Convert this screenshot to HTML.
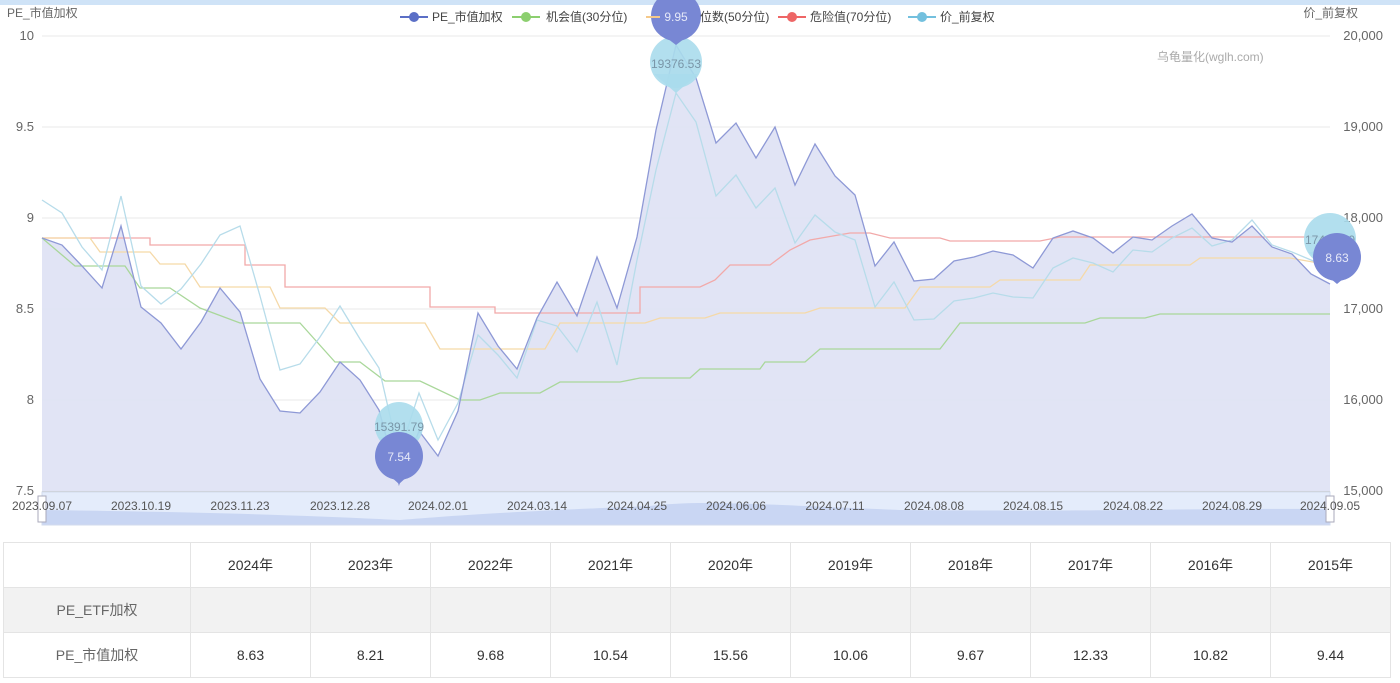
<!DOCTYPE html>
<html><head><meta charset="utf-8"><style>
body{margin:0;width:1400px;height:683px;background:#fff;overflow:hidden;font-family:"Liberation Sans","Noto Sans CJK SC",sans-serif;}
svg{position:absolute;left:0;top:0}
table{position:absolute;left:3px;top:542px;border-collapse:collapse;font-size:14px;color:#333}
td{border:1px solid #e4e4e4;text-align:center;height:44px;padding:0}
tr.g td{background:#f2f2f2}
td.h{color:#666}
</style></head><body>
<svg width="1400" height="540" font-family="Liberation Sans, Noto Sans CJK SC, sans-serif">
<rect x="0" y="0" width="1400" height="5" fill="#cfe3f7"/>
<g stroke="#e8e8e8" stroke-width="1">
<line x1="42" y1="36" x2="1330" y2="36"/><line x1="42" y1="127" x2="1330" y2="127"/><line x1="42" y1="218" x2="1330" y2="218"/><line x1="42" y1="309" x2="1330" y2="309"/><line x1="42" y1="400" x2="1330" y2="400"/><line x1="42" y1="491" x2="1330" y2="491" stroke="#ccc"/>
</g>
<g font-size="13" fill="#666" text-anchor="end">
<text x="34" y="40">10</text><text x="34" y="131">9.5</text><text x="34" y="222">9</text><text x="34" y="313">8.5</text><text x="34" y="404">8</text><text x="34" y="495">7.5</text>
</g>
<g font-size="13" fill="#666" text-anchor="end">
<text x="1383" y="40">20,000</text><text x="1383" y="131">19,000</text><text x="1383" y="222">18,000</text><text x="1383" y="313">17,000</text><text x="1383" y="404">16,000</text><text x="1383" y="495">15,000</text>
</g>
<text x="7" y="17" font-size="12" fill="#666">PE_市值加权</text>
<text x="1358" y="17" font-size="12" fill="#666" text-anchor="end">价_前复权</text>
<text x="1157" y="61" font-size="12" fill="#aaa">乌龟量化(wglh.com)</text>
<!-- PE area -->
<polygon fill="#dfe3f4" fill-opacity="0.95" stroke="none" points="42,491 42,238 62,245 82,266 102,288 121,226 141,307 161,323 181,349 201,322 220,288 240,312 260,379 280,411 300,413 320,392 340,362 360,380 379,410 399,484 419,431 438,456 458,411 478,313 498,346 517,369 537,318 557,282 577,316 597,257 617,308 637,237 656,130 676,45 696,78 716,143 736,123 756,158 775,127 795,185 815,144 835,176 855,195 875,266 894,242 914,281 934,279 954,261 974,257 993,251 1013,255 1033,268 1053,238 1073,231 1093,238 1113,253 1133,237 1152,240 1172,226 1192,214 1212,238 1232,242 1252,226 1272,247 1292,254 1311,274 1330,284 1330,491"/>
<polyline fill="none" stroke="#f2a9a9" stroke-width="1.3" points="42,238 150,238 150,245 245,245 245,265 285,265 285,287 430,287 430,307 495,307 495,313 640,313 640,287 700,287 715,280 730,265 770,265 790,250 810,240 850,233 870,233 890,238 940,238 950,241 1040,241 1060,237 1330,237"/>
<polyline fill="none" stroke="#f5d9a8" stroke-width="1.3" points="42,238 90,238 100,252 150,252 160,264 185,264 200,287 270,287 280,308 325,308 340,323 425,323 440,349 545,349 560,323 645,323 660,318 705,318 720,313 805,313 820,308 905,308 920,287 990,287 1000,280 1080,280 1090,265 1190,265 1200,258 1290,258 1330,265"/>
<polyline fill="none" stroke="#a9d79a" stroke-width="1.3" points="42,238 75,266 125,266 140,288 170,288 200,308 240,323 300,323 335,362 360,362 385,381 420,381 460,400 480,400 500,393 540,393 560,382 620,382 640,378 690,378 700,369 760,369 765,362 805,362 820,349 940,349 960,323 1085,323 1100,318 1145,318 1160,314 1330,314"/>
<polyline fill="none" stroke="#b7dcea" stroke-width="1.3" points="42,200 62,213 82,247 102,270 121,196 141,286 161,304 181,289 201,264 220,235 240,226 260,296 280,370 300,364 320,337 340,306 360,339 379,368 399,455 419,393 438,440 458,403 478,335 498,355 517,378 537,320 557,326 577,352 597,302 617,365 637,260 656,170 676,93 696,122 716,196 736,175 756,208 775,188 795,243 815,215 835,232 855,240 875,307 894,282 914,320 934,319 954,301 974,298 993,293 1013,297 1033,298 1053,268 1073,258 1093,263 1113,272 1133,250 1152,252 1172,238 1192,228 1212,246 1232,240 1252,220 1272,245 1292,252 1311,260 1330,268"/>
<polyline fill="none" stroke="#8e99d6" stroke-width="1.3" points="42,238 62,245 82,266 102,288 121,226 141,307 161,323 181,349 201,322 220,288 240,312 260,379 280,411 300,413 320,392 340,362 360,380 379,410 399,484 419,431 438,456 458,411 478,313 498,346 517,369 537,318 557,282 577,316 597,257 617,308 637,237 656,130 676,45 696,78 716,143 736,123 756,158 775,127 795,185 815,144 835,176 855,195 875,266 894,242 914,281 934,279 954,261 974,257 993,251 1013,255 1033,268 1053,238 1073,231 1093,238 1113,253 1133,237 1152,240 1172,226 1192,214 1212,238 1232,242 1252,226 1272,247 1292,254 1311,274 1330,284"/>
<!-- pins -->
<g fill="#aadcec" fill-opacity="0.9"><circle cx="676" cy="62" r="26"/><path d="M654,74 L676,93 L698,74Z"/>
<circle cx="399" cy="426" r="24"/><path d="M379,437 L399,455 L419,437Z"/>
<circle cx="1330" cy="239" r="26"/><path d="M1308,252 L1330,268 L1352,252Z"/></g>
<g font-size="12" fill="#7a96a8" text-anchor="middle"><text x="676" y="68">19376.53</text><text x="399" y="431">15391.79</text><text x="1330" y="244">17444.30</text></g>
<g fill="#7887d4"><circle cx="676" cy="16" r="25"/><path d="M655,29 L676,45 L697,29Z"/>
<circle cx="399" cy="456" r="24"/><path d="M380,467 L399,484 L418,467Z"/>
<circle cx="1337" cy="257" r="24"/><path d="M1318,268 L1337,284 L1356,268Z"/></g>
<g font-size="12" fill="#e6e9f8" text-anchor="middle"><text x="676" y="21">9.95</text><text x="399" y="461">7.54</text><text x="1337" y="262">8.63</text></g>
<!-- legend -->
<g font-size="12" fill="#444">
<line x1="400" y1="17" x2="428" y2="17" stroke="#5b6fc6" stroke-width="2"/><circle cx="414" cy="17" r="5" fill="#5b6fc6"/><text x="432" y="21">PE_市值加权</text>
<line x1="512" y1="17" x2="540" y2="17" stroke="#8ccf6f" stroke-width="2"/><circle cx="526" cy="17" r="5" fill="#8ccf6f"/><text x="546" y="21">机会值(30分位)</text>
<line x1="646" y1="17" x2="660" y2="17" stroke="#f5c98a" stroke-width="2"/><text x="700" y="21">位数(50分位)</text>
<line x1="778" y1="17" x2="806" y2="17" stroke="#ee6666" stroke-width="2"/><circle cx="792" cy="17" r="5" fill="#ee6666"/><text x="810" y="21">危险值(70分位)</text>
<line x1="908" y1="17" x2="936" y2="17" stroke="#73c0de" stroke-width="2"/><circle cx="922" cy="17" r="5" fill="#73c0de"/><text x="940" y="21">价_前复权</text>
</g>
<!-- dataZoom -->
<rect x="42" y="492" width="1288" height="33" fill="#e4ecfb"/>
<path d="M42,510 C200,512 300,515 400,520 C450,516 500,512 650,506 C700,500 750,504 900,510 C1100,512 1200,508 1330,509 L1330,525 L42,525Z" fill="#c9d6f3"/>
<rect x="42" y="492" width="1288" height="33" fill="none" stroke="#d2dbee"/>
<rect x="38" y="496" width="8" height="26" fill="#fff" stroke="#aab"/>
<rect x="1326" y="496" width="8" height="26" fill="#fff" stroke="#aab"/>
<g font-size="12" fill="#555" text-anchor="middle">
<text x="42" y="510">2023.09.07</text><text x="141" y="510">2023.10.19</text><text x="240" y="510">2023.11.23</text><text x="340" y="510">2023.12.28</text><text x="438" y="510">2024.02.01</text><text x="537" y="510">2024.03.14</text><text x="637" y="510">2024.04.25</text><text x="736" y="510">2024.06.06</text><text x="835" y="510">2024.07.11</text><text x="934" y="510">2024.08.08</text><text x="1033" y="510">2024.08.15</text><text x="1133" y="510">2024.08.22</text><text x="1232" y="510">2024.08.29</text><text x="1330" y="510">2024.09.05</text>
</g>
</svg>
<table>
<tr><td style="width:186px"></td><td style="width:119px">2024年</td><td style="width:119px">2023年</td><td style="width:119px">2022年</td><td style="width:119px">2021年</td><td style="width:119px">2020年</td><td style="width:119px">2019年</td><td style="width:119px">2018年</td><td style="width:119px">2017年</td><td style="width:119px">2016年</td><td style="width:119px">2015年</td></tr>
<tr class="g"><td class="h">PE_ETF加权</td><td></td><td></td><td></td><td></td><td></td><td></td><td></td><td></td><td></td><td></td></tr>
<tr><td class="h">PE_市值加权</td><td>8.63</td><td>8.21</td><td>9.68</td><td>10.54</td><td>15.56</td><td>10.06</td><td>9.67</td><td>12.33</td><td>10.82</td><td>9.44</td></tr>
</table>
</body></html>
